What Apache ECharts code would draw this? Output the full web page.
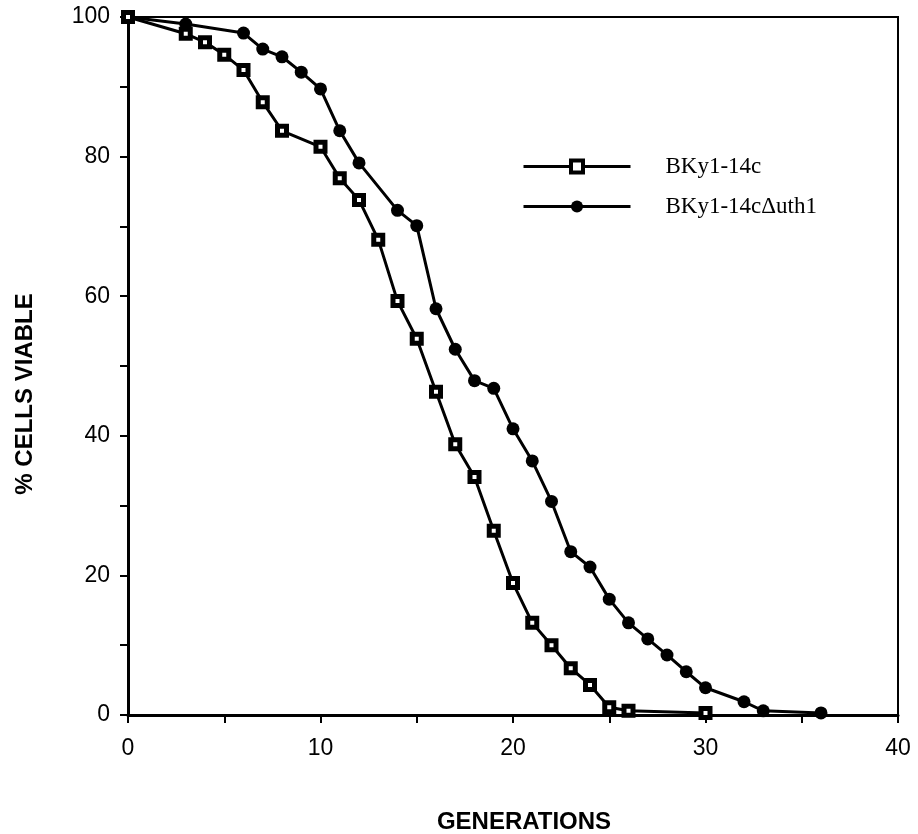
<!DOCTYPE html>
<html>
<head>
<meta charset="utf-8">
<script src="https://cdn.jsdelivr.net/npm/echarts@6/dist/echarts.min.js"></script>
<style>
  html, body { margin: 0; padding: 0; background: #fff; }
  #chart { width: 918px; height: 834px; }
</style>
</head>
<body>
<div id="chart"></div>
<script>
// BKy1-14c (open squares)
const genWild = [0, 3, 4, 5, 6, 7, 8, 10, 11, 12, 13, 14, 15, 16, 17, 18, 19, 20, 21, 22, 23, 24, 25, 26, 30]
const viableWild = [100, 97.6, 96.4, 94.6, 92.4, 87.8, 83.7, 81.4, 76.9, 73.8, 68.1, 59.3, 53.9, 46.3, 38.8, 34.1, 26.4, 18.9, 13.2, 10.0, 6.7, 4.3, 1.1, 0.6, 0.3]

// BKy1-14cΔuth1 (filled circles)
const genMutant = [0, 3, 6, 7, 8, 9, 10, 11, 12, 14, 15, 16, 17, 18, 19, 20, 21, 22, 23, 24, 25, 26, 27, 28, 29, 30, 32, 33, 36]
const viableMutant = [100, 99.0, 97.7, 95.4, 94.3, 92.1, 89.7, 83.7, 79.1, 72.3, 70.1, 58.2, 52.4, 47.9, 46.8, 41.0, 36.4, 30.6, 23.4, 21.2, 16.6, 13.2, 10.9, 8.6, 6.2, 3.9, 1.9, 0.6, 0.3]

const seriesNames = ['BKy1-14c', 'BKy1-14c\u0394uth1']

const chart = echarts.init(document.getElementById('chart'))

const axisFont = 'Liberation Sans, Arial, Helvetica, sans-serif'

chart.setOption({
  animation: false,
  backgroundColor: '#fff',
  grid: {
    left: 128, right: 20, top: 17, bottom: 119,
    outerBoundsMode: 'none',
    show: true, borderColor: '#000', borderWidth: 2,
  },
  legend: {
    orient: 'vertical',
    left: 517,
    top: 150,
    itemWidth: 107,
    itemHeight: 15,
    itemGap: 17,
    data: [
      { name: seriesNames[0], itemStyle: { color: '#fff', borderColor: '#000', borderWidth: 4 } },
      { name: seriesNames[1] },
    ],
    lineStyle: { width: 3, color: '#000' },
    textStyle: {
      fontFamily: 'Liberation Serif, Times New Roman, serif',
      fontSize: 23,
      color: '#000',
      padding: [0, 0, 0, 30],
    },
  },
  xAxis: {
    type: 'value',
    min: 0,
    max: 40,
    interval: 10,
    name: 'GENERATIONS',
    nameLocation: 'middle',
    nameGap: 95,
    nameTextStyle: { fontFamily: axisFont, fontWeight: 'bold', fontSize: 24, color: '#000', padding: [0, 0, 0, 22] },
    axisLine: { lineStyle: { color: '#000', width: 3 } },
    axisTick: { show: true, length: 8, lineStyle: { color: '#000', width: 2 } },
    minorTick: { show: true, splitNumber: 2, length: 8, lineStyle: { color: '#000', width: 2 } },
    splitLine: { show: false },
    axisLabel: { fontFamily: axisFont, fontSize: 23, color: '#000', margin: 22 },
  },
  yAxis: {
    type: 'value',
    min: 0,
    max: 100,
    interval: 20,
    name: '% CELLS VIABLE',
    nameLocation: 'middle',
    nameGap: 91,
    nameTextStyle: { fontFamily: axisFont, fontWeight: 'bold', fontSize: 24, color: '#000', padding: [0, 56, 0, 0] },
    axisLine: { lineStyle: { color: '#000', width: 3 } },
    axisTick: { show: true, length: 8, lineStyle: { color: '#000', width: 2 } },
    minorTick: { show: true, splitNumber: 2, length: 8, lineStyle: { color: '#000', width: 2 } },
    splitLine: { show: false },
    axisLabel: { fontFamily: axisFont, fontSize: 23, color: '#000', margin: 18 },
  },
  series: [
    {
      name: seriesNames[1],
      type: 'line',
      data: genMutant.map((g, i) => [g, viableMutant[i]]),
      symbol: 'circle',
      symbolSize: 13,
      lineStyle: { color: '#000', width: 3 },
      itemStyle: { color: '#000' },
      z: 2,
    },
    {
      name: seriesNames[0],
      type: 'line',
      data: genWild.map((g, i) => [g, viableWild[i]]),
      symbol: 'rect',
      symbolSize: 9,
      lineStyle: { color: '#000', width: 3 },
      itemStyle: { color: '#fff', borderColor: '#000', borderWidth: 5 },
      z: 3,
    },
  ],
})
</script>
</body>
</html>
